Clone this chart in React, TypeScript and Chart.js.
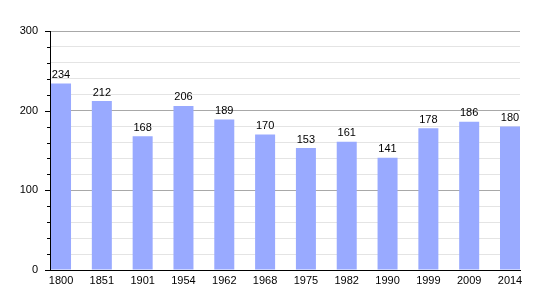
import React, { useEffect, useRef } from "react";
import { Chart, registerables } from "chart.js";

Chart.register(...registerables);

const years = ["1800", "1851", "1901", "1954", "1962", "1968", "1975", "1982", "1990", "1999", "2009", "2014"];
const population = [234, 212, 168, 206, 189, 170, 153, 161, 141, 178, 186, 180];
const yTicks = [0, 100, 200, 300];

const FONT = "'Liberation Sans', Arial, sans-serif";

const extrasPlugin = {
  id: "extras",
  afterDatasetsDraw(chart: any) {
    const ctx = chart.ctx;
    const meta = chart.getDatasetMeta(0);
    ctx.save();
    ctx.fillStyle = "#000";
    ctx.font = `11px ${FONT}`;
    ctx.textAlign = "center";
    ctx.textBaseline = "bottom";
    meta.data.forEach((bar: any, i: number) => {
      ctx.fillText(String(population[i]), bar.x, bar.y - 3);
    });
    // y tick marks
    const y = chart.scales.y;
    const left = chart.chartArea.left;
    ctx.strokeStyle = "#000";
    ctx.lineWidth = 1;
    for (let v = 0; v <= 300; v += 20) {
      const py = Math.round(y.getPixelForValue(v)) + 0.5;
      const len = v % 100 === 0 ? 5 : 3;
      ctx.beginPath();
      ctx.moveTo(left - len, py);
      ctx.lineTo(left, py);
      ctx.stroke();
    }
    ctx.restore();
  },
};

export default function App() {
  const ref = useRef<HTMLCanvasElement>(null);
  useEffect(() => {
    const chart = new Chart(ref.current!, {
      type: "bar",
      data: {
        datasets: [
          {
            data: population.map((v, i) => ({ x: i, y: v })),
            backgroundColor: "#99aaff",
            barPercentage: 0.49,
            categoryPercentage: 1,
          },
        ],
      },
      options: {
        animation: false,
        responsive: false,
        maintainAspectRatio: false,
        layout: { padding: { top: 31, right: 30, left: 0, bottom: 0 } },
        plugins: { legend: { display: false }, tooltip: { enabled: false } },
        scales: {
          x: {
            type: "linear",
            offset: false,
            min: -0.27,
            max: 11.245,
            afterBuildTicks: (scale: any) => {
              scale.ticks = years.map((_, i) => ({ value: i }));
            },
            afterFit: (scale: any) => {
              scale.height = 30;
            },
            grid: { display: false, drawTicks: false, offset: false },
            border: { display: true, color: "#000", width: 1 },
            ticks: {
              autoSkip: false,
              maxRotation: 0,
              padding: 4,
              color: "#000",
              font: { family: FONT, size: 11 },
              callback: (v: any) => years[v] ?? "",
            },
          },
          y: {
            min: 0,
            max: 300,
            afterBuildTicks: (scale: any) => {
              const t = [];
              for (let v = 0; v <= 300; v += 20) t.push({ value: v });
              scale.ticks = t;
            },
            afterFit: (scale: any) => {
              scale.width = 50;
            },
            grid: {
              drawTicks: false,
              color: (c: any) => (c.tick && c.tick.value % 100 === 0 ? "#a8a8a8" : "#e4e4e4"),
            },
            border: { display: true, color: "#000", width: 1 },
            ticks: {
              autoSkip: false,
              padding: 12,
              color: "#000",
              font: { family: FONT, size: 11 },
              callback: (v: any) => (yTicks.includes(v) ? String(v) : ""),
            },
          },
        },
      },
      plugins: [extrasPlugin],
    });
    return () => chart.destroy();
  }, []);
  return (
    <div style={{ position: "fixed", left: 0, top: 0, width: 550, height: 300, background: "#fff" }}>
      <canvas ref={ref} width={550} height={300} style={{ width: 550, height: 300 }} />
    </div>
  );
}
